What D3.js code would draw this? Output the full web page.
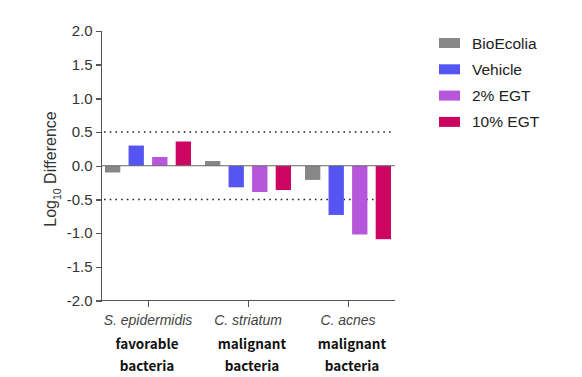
<!DOCTYPE html>
<html lang="en">
  <head>
    <meta charset="UTF-8" />
    <title>Log10 Difference</title>
    <style>
      body { margin: 0; background: #fff; }
      .axis path, .axis line { stroke: #555; shape-rendering: crispEdges; }
      .axis text { font-family: 'Liberation Sans', Arial, sans-serif; font-size: 15px; fill: #333; }
    </style>
    <script src="https://d3js.org/d3.v7.min.js"></script>
  </head>
  <body>
    <svg width="582" height="377"></svg>
    <script>
      var categories = ['S. epidermidis', 'C. striatum', 'C. acnes']
      var groupNotes = [['favorable', 'bacteria'], ['malignant', 'bacteria'], ['malignant', 'bacteria']]
      var seriesNames = ['BioEcolia', 'Vehicle', '2% EGT', '10% EGT']
      var bioEcolia = [-0.1, 0.07, -0.21]
      var vehicle = [0.3, -0.32, -0.73]
      var egt2 = [0.13, -0.39, -1.02]
      var egt10 = [0.36, -0.36, -1.09]
      var yTicks = [2.0, 1.5, 1.0, 0.5, 0.0, -0.5, -1.0, -1.5, -2.0]
      var refLines = [0.5, -0.5]
      var colors = ['#878787', '#5555f2', '#b656da', '#cc0563']

      var series = [bioEcolia, vehicle, egt2, egt10]

      var svg = d3.select('svg')
      var font = "'Liberation Sans', Arial, sans-serif"

      var x = d3.scaleBand().domain(categories).range([98, 398])
      var x1 = d3.scaleBand().domain(seriesNames).range([0, 86]).paddingInner(0.35)
      var y = d3.scaleLinear().domain([-2, 2]).range([300.5, 31])

      // dotted reference lines
      svg.selectAll('line.ref')
        .data(refLines)
        .enter()
        .append('line')
        .attr('class', 'ref')
        .attr('x1', 104)
        .attr('x2', 392)
        .attr('y1', d => y(d))
        .attr('y2', d => y(d))
        .attr('stroke', '#222')
        .attr('stroke-width', 1.6)
        .attr('stroke-dasharray', '1.6,4.1')

      // bars
      var groups = svg.selectAll('g.grp')
        .data(categories)
        .enter()
        .append('g')
        .attr('class', 'grp')
        .attr('transform', d => `translate(${x(d) + x.bandwidth() / 2 - 43}, 0)`)

      groups.selectAll('rect')
        .data((d, i) => seriesNames.map((s, j) => ({ s: s, j: j, v: series[j][i] })))
        .enter()
        .append('rect')
        .attr('x', d => x1(d.s))
        .attr('width', x1.bandwidth())
        .attr('y', d => y(Math.max(0, d.v)))
        .attr('height', d => Math.abs(y(d.v) - y(0)))
        .attr('fill', d => colors[d.j])

      // zero line
      svg.append('line')
        .attr('x1', 101)
        .attr('x2', 395)
        .attr('y1', y(0))
        .attr('y2', y(0))
        .attr('stroke', '#666')
        .attr('stroke-width', 1)

      // y axis
      var fmt = d3.format('.1f')
      var yAxis = d3.axisLeft(y).tickValues(yTicks)
        .tickFormat(d => fmt(d).replace('\u2212', '-'))
        .tickSize(6).tickPadding(3)
      var gy = svg.append('g')
        .attr('class', 'axis')
        .attr('transform', 'translate(101.5, 0)')
        .call(yAxis)
      gy.select('.domain').attr('d', `M0,${y(2)}V${y(-2)}`)
      gy.selectAll('.tick line').attr('stroke-width', 1.4)

      // x axis
      var xAxis = d3.axisBottom(x).tickSize(6).tickFormat('')
      var gx = svg.append('g')
        .attr('class', 'axis')
        .attr('transform', `translate(0, ${y(-2)})`)
        .call(xAxis)
      gx.select('.domain').attr('d', 'M101,0H395')

      svg.selectAll('text.cat')
        .data(categories)
        .enter()
        .append('text')
        .attr('class', 'cat')
        .attr('x', d => x(d) + x.bandwidth() / 2)
        .attr('y', 325)
        .attr('text-anchor', 'middle')
        .attr('font-family', font)
        .attr('font-style', 'italic')
        .attr('font-size', 14)
        .attr('fill', '#444')
        .text(d => d)

      // group notes
      categories.forEach(function(c, i) {
        groupNotes[i].forEach(function(t, k) {
          svg.append('text')
            .attr('x', x(c) + x.bandwidth() / 2 + (i === 0 ? -1 : 4))
            .attr('y', 349 + k * 22)
            .attr('text-anchor', 'middle')
            .attr('font-family', "'Noto Sans CJK SC', 'Noto Sans', sans-serif")
            .attr('font-weight', 'bold')
            .attr('font-size', 13.5)
            .attr('fill', '#111')
            .text(t)
        })
      })

      // y label
      var yl = svg.append('text')
        .attr('transform', 'translate(56, 169) rotate(-90)')
        .attr('text-anchor', 'middle')
        .attr('font-family', font)
        .attr('font-size', 16)
        .attr('fill', '#333')
      yl.append('tspan').text('Log')
      yl.append('tspan').attr('font-size', 10.5).attr('dy', 5).text('10')
      yl.append('tspan').attr('dy', -5).text(' Difference')

      // legend
      var legend = svg.selectAll('g.leg')
        .data(seriesNames)
        .enter()
        .append('g')
        .attr('class', 'leg')
        .attr('transform', (d, i) => `translate(439, ${43 + i * 26.3})`)
      legend.append('rect')
        .attr('x', 0)
        .attr('y', -5)
        .attr('width', 21)
        .attr('height', 10)
        .attr('fill', (d, i) => colors[i])
      legend.append('text')
        .attr('x', 33)
        .attr('y', 5.5)
        .attr('font-family', font)
        .attr('font-size', 15.5)
        .attr('fill', '#222')
        .text(d => d)
    </script>
  </body>
</html>
